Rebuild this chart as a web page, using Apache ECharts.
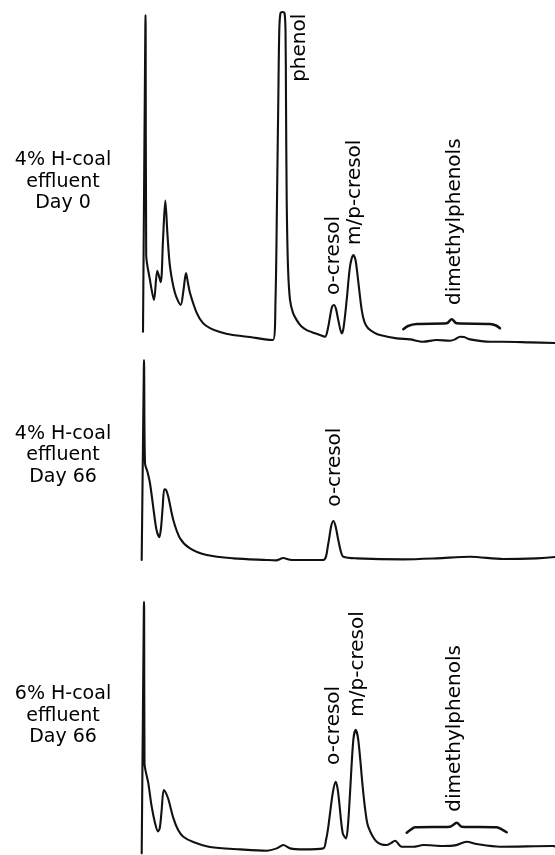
<!DOCTYPE html>
<html>
<head>
<meta charset="utf-8">
<script src="https://cdn.jsdelivr.net/npm/echarts@6/dist/echarts.min.js"></script>
<style>
html,body{margin:0;padding:0;background:#fff;}
#chart{width:555px;height:855px;}
</style>
</head>
<body>
<div id="chart"></div>
<script>
// Retention time (min) vs detector response (% of full scale)
const trace4pctDay0 = [
  [0.0,3.4],[0.235,96.0],[0.25,99.1],[0.265,96.0],[0.32,26.6],[0.7,19.0],[1.1,13.0],[1.43,21.8],[1.77,18.4],[2.0,31.1],
  [2.23,43.0],[2.45,32.6],[2.7,23.1],[3.2,15.1],[3.77,11.5],[4.05,16.0],[4.3,21.1],[4.5,18.1],
  [4.7,15.1],[5.37,9.1],[6.0,6.0],[6.7,4.5],[7.7,3.3],[9.0,2.4],[10.7,1.8],[12.2,1.1],[13.0,0.9],
  [13.25,13.0],[13.4,43.2],[13.53,73.4],[13.63,94.6],[13.75,99.7],[13.95,100],[14.15,99.7],
  [14.25,94.6],[14.3,73.4],[14.37,43.2],[14.5,23.0],[14.7,13.0],[15.0,9.1],[15.37,6.9],[15.8,5.1],
  [16.37,3.9],[17.7,2.4],[18.2,1.9],[18.5,4.5],[18.7,7.9],[18.9,10.9],[19.1,11.5],[19.3,10.3],
  [19.53,6.9],[19.87,2.9],[20.05,4.5],[20.37,13.0],[20.7,23.1],[21.03,26.6],[21.25,25.1],
  [21.43,21.1],[21.87,10.0],[22.15,6.3],[22.53,4.4],[23.2,3.0],[23.7,2.4],[25.37,1.4],[26.7,1.1],
  [28.0,0.4],[29.37,0.9],[30.7,0.7],[31.2,1.1],[31.7,1.9],[32.1,1.8],[32.7,1.1],[34.7,0.4],
  [36.0,0.4],[38.7,0.2],[41.2,0.0]
];
const trace4pctDay66 = [
  [-0.13,0.6],[0.085,59.0],[0.1,61.0],[0.115,59.0],[0.2,29.8],[0.45,27.2],[0.7,23.8],[1.1,14.8],[1.35,9.7],[1.63,7.5],
  [1.8,10.3],[1.97,16.7],[2.13,22.0],[2.3,21.8],[2.53,19.7],[3.03,12.7],[3.7,7.2],[4.7,4.1],
  [6.37,2.1],[9.03,1.1],[12.37,0.6],[13.3,0.5],[14.03,1.2],[14.7,0.7],[15.7,0.6],[18.03,0.6],
  [18.53,5.6],[18.8,10.6],[19.03,12.4],[19.25,10.9],[19.53,6.6],[19.8,3.0],[20.03,1.6],
  [21.37,1.1],[26.03,0.8],[29.37,1.1],[32.7,1.6],[36.03,0.9],[39.37,1.1],[41.2,1.5]
];
const trace6pctDay66 = [
  [-0.13,0.5],[0.085,74.5],[0.1,76.5],[0.115,74.5],[0.15,27.8],[0.53,21.7],[0.87,14.6],[1.2,9.7],[1.5,7.1],[1.68,8.2],
  [1.85,13.0],[2.07,19.6],[2.25,19.0],[2.53,16.9],[3.03,11.2],[3.5,7.6],[4.03,5.5],[5.03,3.9],
  [6.7,2.4],[9.7,1.7],[12.37,1.3],[13.37,2.0],[14.03,3.0],[14.7,2.0],[16.03,1.7],[18.03,2.0],
  [18.3,4.5],[18.53,8.5],[18.97,18.6],[19.27,22.1],[19.45,20.2],[19.6,16.6],[19.97,6.6],[20.3,5.0],
  [20.5,9.1],[20.7,18.6],[21.03,34.7],[21.27,37.8],[21.53,34.7],[21.97,20.6],[22.25,13.0],
  [22.53,8.5],[23.37,4.0],[24.37,3.0],[24.8,3.6],[25.2,4.3],[25.87,2.5],[27.03,2.5],[28.03,3.0],
  [30.03,2.7],[31.2,2.9],[32.37,4.0],[33.37,3.3],[35.7,2.5],[41.0,2.7],[41.2,2.6]
];
// Braces marking the dimethylphenol region
const braceDay0 = [[26.03,4.14],[26.5,5.14],[27.37,5.74],[30.37,5.95],[30.87,7.16],[31.37,5.95],[34.7,5.74],[35.3,5.29],[35.7,4.44]];
const brace6pct = [[26.37,6.74],[26.8,7.7],[27.2,8.37],[30.7,8.55],[31.37,9.76],[31.87,8.55],[35.37,8.37],[35.9,7.7],[36.37,6.86]];
// Peak labels: [name, time, response at text start]
const peakLabels4pctDay0 = [['phenol',15.7,78.9],['o-cresol',19.1,14.5],['m/p-cresol',21.2,29.6],['dimethylphenols',31.2,11.5]];
const peakLabels4pctDay66 = [['o-cresol',19.2,16.7]];
const peakLabels6pctDay66 = [['o-cresol',19.1,27.2],['m/p-cresol',21.5,41.8],['dimethylphenols',31.2,13.1]];
const panelNames = ['4% H-coal\neffluent\nDay 0','4% H-coal\neffluent\nDay 66','6% H-coal\neffluent\nDay 66'];

const INK = '#000000';
const chart = echarts.init(document.getElementById('chart'), null, {renderer:'canvas'});
const gridTops = [12, 231, 524];
const grids = gridTops.map(t => ({left:138, width:417, top:t, height:331, containLabel:false}));
const xAxes = grids.map((g,i) => ({type:'value', gridIndex:i, min:-0.5, max:41.2, show:false}));
const yAxes = grids.map((g,i) => ({type:'value', gridIndex:i, min:0, max:100, show:false}));

function traceSeries(data, i){
  return {type:'line', xAxisIndex:i, yAxisIndex:i, data:data, symbol:'none', smooth:0.3,
    clip:false, silent:true, animation:false,
    lineStyle:{color:'#111', width:2.1, join:'round', cap:'round'}};
}
function braceSeries(data, i){
  return {type:'line', xAxisIndex:i, yAxisIndex:i, data:data, symbol:'none', smooth:0.3,
    clip:false, silent:true, animation:false,
    lineStyle:{color:'#111', width:2.5, cap:'round', join:'round'}};
}
function labelSeries(labels, i){
  return {type:'scatter', xAxisIndex:i, yAxisIndex:i, symbol:'circle', symbolSize:0.01, silent:true, animation:false,
    itemStyle:{color:INK, opacity:1},
    data: labels.map(l => ({name:l[0], value:[l[1], l[2]]})),
    label:{show:true, formatter:'{b}', rotate:90, position:'top', distance:0, opacity:1,
      align:'left', verticalAlign:'middle', color:INK, fontSize:20,
      fontFamily:'DejaVu Sans', textBorderWidth:0}};
}
const series = [
  traceSeries(trace4pctDay0,0), braceSeries(braceDay0,0), labelSeries(peakLabels4pctDay0,0),
  traceSeries(trace4pctDay66,1), labelSeries(peakLabels4pctDay66,1),
  traceSeries(trace6pctDay66,2), braceSeries(brace6pct,2), labelSeries(peakLabels6pctDay66,2)
];
const labelCenters = [182, 455.5, 716];
const graphic = panelNames.map((t,i) => ({type:'text', x:63, y:labelCenters[i], silent:true,
  style:{text:t, fill:INK, font:'19px "DejaVu Sans"', textAlign:'center', textVerticalAlign:'middle', lineHeight:21.5}}));

chart.setOption({animation:false, backgroundColor:'#ffffff', grid:grids, xAxis:xAxes, yAxis:yAxes, series:series, graphic:graphic});
</script>
</body>
</html>
